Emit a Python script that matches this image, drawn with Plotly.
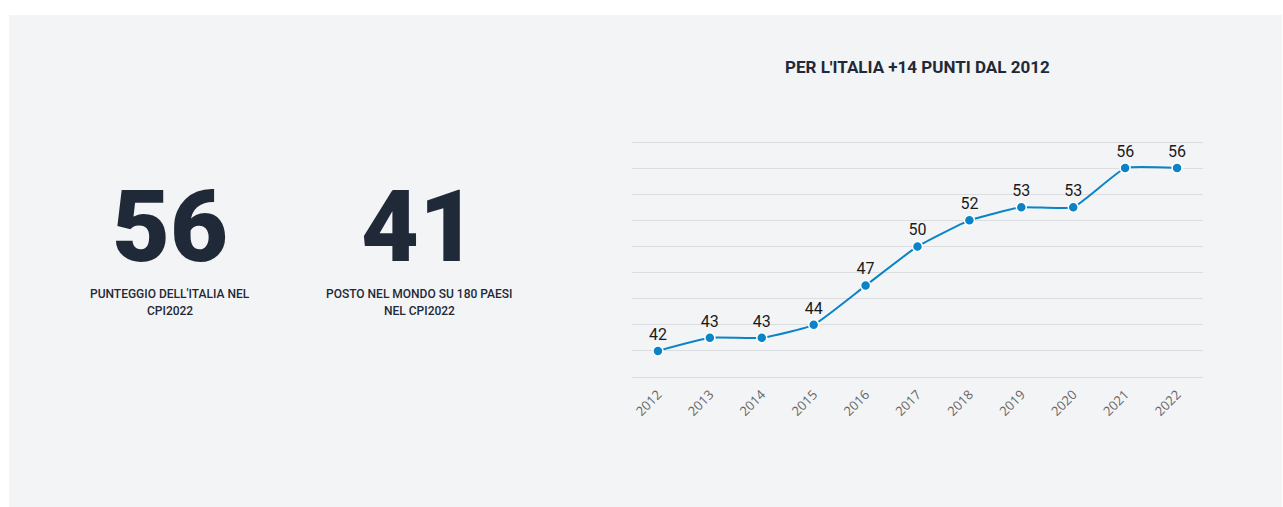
import plotly.graph_objects as go

years = [2012, 2013, 2014, 2015, 2016, 2017, 2018, 2019, 2020, 2021, 2022]
scores = [42, 43, 43, 44, 47, 50, 52, 53, 53, 56, 56]
year_labels = [str(y) for y in years]

kpi_values = ["56", "41"]
kpi_line1 = ["PUNTEGGIO DELL'ITALIA NEL", "POSTO NEL MONDO SU 180 PAESI"]
kpi_line2 = ["CPI2022", "NEL CPI2022"]
title_text = "PER L'ITALIA +14 PUNTI DAL 2012"

W, H = 1283, 507
DARK = "#1f2937"
BLUE = "#0a84c6"
FONT = "Roboto, sans-serif"

fig = go.Figure()
fig.add_trace(go.Scatter(
    x=years, y=scores, mode="lines+markers+text",
    text=[str(s) for s in scores], textposition="top center",
    textfont=dict(family=FONT, size=16, color="#1a1a1a"),
    line=dict(color=BLUE, width=2, shape="spline", smoothing=0.4),
    marker=dict(size=10, color=BLUE, line=dict(color="white", width=1.5)),
    cliponaxis=False, hoverinfo="skip", showlegend=False,
))

fig.add_shape(type="rect", xref="paper", yref="paper",
              x0=9 / W, x1=1282 / W, y0=0, y1=1 - 15 / H,
              fillcolor="#f3f4f6", line=dict(width=0), layer="below")

annotations = []
centers = [170, 419]
for cx, v, l1, l2 in zip(centers, kpi_values, kpi_line1, kpi_line2):
    annotations.append(dict(x=cx / W, y=1 - 226 / H, xref="paper", yref="paper",
                            text=v, showarrow=False, xanchor="center", yanchor="middle",
                            font=dict(family=FONT, size=100, color=DARK, weight=900)))
    annotations.append(dict(x=cx / W, y=1 - 294 / H, xref="paper", yref="paper",
                            text=l1, showarrow=False, xanchor="center", yanchor="middle",
                            font=dict(family=FONT, size=12, color=DARK, weight=500)))
    annotations.append(dict(x=cx / W, y=1 - 311 / H, xref="paper", yref="paper",
                            text=l2, showarrow=False, xanchor="center", yanchor="middle",
                            font=dict(family=FONT, size=12, color=DARK, weight=500)))

annotations.append(dict(x=917 / W, y=1 - 67 / H, xref="paper", yref="paper",
                        text=title_text, showarrow=False, xanchor="center", yanchor="middle",
                        font=dict(family=FONT, size=17, color=DARK, weight="bold")))

# plot area: y=40 at 377px, y=58 at 142px; pad range by 0.5 units on each side
ppu = (377 - 142) / 18.0
y_top_px = 142 - 0.5 * ppu
y_bot_px = 377 + 0.5 * ppu

fig.update_layout(
    width=W, height=H, margin=dict(l=0, r=0, t=0, b=0),
    paper_bgcolor="white", plot_bgcolor="rgba(0,0,0,0)",
    annotations=annotations,
    xaxis=dict(domain=[632 / W, 1203 / W], range=[2011.5, 2022.5],
               tickmode="array", tickvals=years, ticktext=year_labels,
               tickangle=-45, showgrid=False, zeroline=False, showline=False,
               tickfont=dict(family="Open Sans, sans-serif", size=13, color="#666666"),
               ticks=""),
    yaxis=dict(domain=[1 - y_bot_px / H, 1 - y_top_px / H], range=[39.5, 58.5],
               tickmode="linear", tick0=40, dtick=2, showticklabels=False,
               showgrid=True, gridcolor="#dcdde0", gridwidth=1,
               zeroline=False, showline=False),
)

fig.write_html("out.html")
